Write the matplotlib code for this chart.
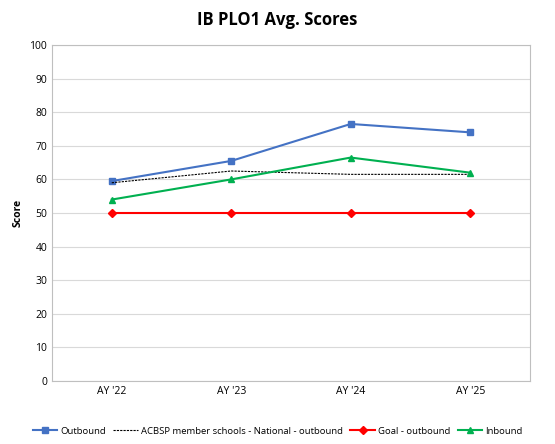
import matplotlib
matplotlib.use("Agg")
import matplotlib.pyplot as plt

categories = ["AY '22", "AY '23", "AY '24", "AY '25"]
outbound = [59.5, 65.5, 76.5, 74]
acbsp = [59, 62.5, 61.5, 61.5]
goal = [50, 50, 50, 50]
inbound = [54, 60, 66.5, 62]

plt.rcParams['font.family'] = ['Open Sans', 'DejaVu Sans']
fig = plt.figure(figsize=(5.55, 4.44), dpi=100)
ax = fig.add_axes([52/555, 1-381/444, 478/555, 336/444])
x = range(len(categories))
ax.plot(x, outbound, color='#4472C4', marker='s', markersize=5, lw=1.5, label='Outbound')
ax.plot(x, acbsp, color='black', ls='--', dashes=(2, 1), lw=0.8, label='ACBSP member schools - National - outbound')
ax.plot(x, goal, color='#FF0000', marker='D', markersize=4, lw=1.5, label='Goal - outbound')
ax.plot(x, inbound, color='#00B050', marker='^', markersize=5, lw=1.5, label='Inbound')
ax.set_xlim(-0.5, 3.5)
ax.set_ylim(0, 100)
ax.set_yticks(range(0, 101, 10))
ax.set_xticks(list(x))
ax.set_xticklabels(categories)
ax.tick_params(labelsize=7.5, length=0)
ax.grid(axis='y', color='#D9D9D9', lw=0.8)
ax.set_axisbelow(True)
for s in ax.spines.values():
    s.set_color('#BFBFBF')
ax.set_ylabel('Score', fontsize=7.5, fontweight='bold')
fig.suptitle('IB PLO1 Avg. Scores', fontsize=12, fontweight='bold', y=0.975)
fig.legend(loc='lower center', ncol=4, fontsize=6.8, frameon=False, bbox_to_anchor=(0.5, 0.0),
           handlelength=2.6, columnspacing=0.8, handletextpad=0.3)
fig.savefig('out.png', dpi=100)
